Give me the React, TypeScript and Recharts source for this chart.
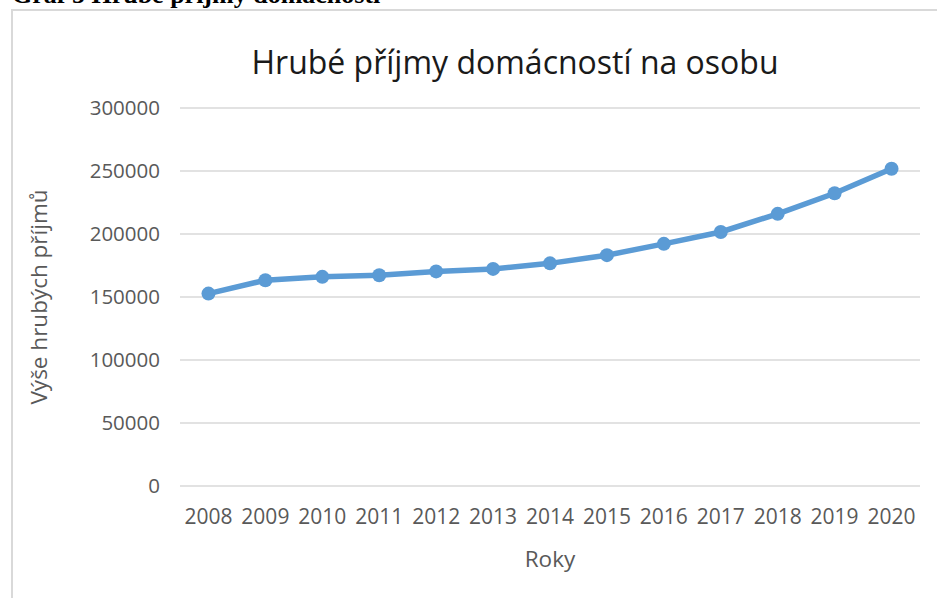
import React from 'react';
import { LineChart, Line, XAxis, YAxis, CartesianGrid, Label } from 'recharts';

const years: string[] = ['2008', '2009', '2010', '2011', '2012', '2013', '2014', '2015', '2016', '2017', '2018', '2019', '2020'];
const incomes: number[] = [152700, 163300, 166000, 167300, 170300, 172300, 176700, 183200, 192200, 201600, 216000, 232300, 251800];
const yTicks: number[] = [0, 50000, 100000, 150000, 200000, 250000, 300000];

const data = years.map((y, i) => ({ year: y, value: incomes[i] }));

const FONT = '"Open Sans", "Segoe UI", sans-serif';
const GREY = '#595959';
const HALF_BAND = 740 / 13 / 2;

export default function App() {
  return (
    <div style={{ position: 'absolute', left: 0, top: 0, width: 937, height: 598, overflow: 'hidden', background: '#fff' }}>
      <div
        style={{
          position: 'absolute',
          left: 12,
          top: -18,
          fontFamily: '"Liberation Serif", "Times New Roman", serif',
          fontWeight: 'bold',
          fontSize: 26,
          lineHeight: '26px',
          whiteSpace: 'nowrap',
          color: '#000',
        }}
      >
        Graf 5 Hrubé příjmy domácností
      </div>
      <div
        style={{
          position: 'absolute',
          left: 11,
          top: 9,
          width: 960,
          height: 620,
          border: '2px solid #d9d9d9',
          boxSizing: 'border-box',
        }}
      />
      <div
        style={{
          position: 'absolute',
          left: 0,
          width: 1030,
          top: 41,
          textAlign: 'center',
          fontFamily: FONT,
          fontSize: 32,
          lineHeight: '42px',
          color: '#1a1a1a',
          whiteSpace: 'nowrap',
        }}
      >
        Hrubé příjmy domácností na osobu
      </div>
      <div style={{ position: 'absolute', left: 0, top: 0 }}>
        <LineChart width={937} height={598} data={data} margin={{ top: 108, right: 17, bottom: 82, left: 0 }}>
          <CartesianGrid horizontal={true} vertical={false} stroke="#d9d9d9" strokeWidth={1.5} />
          <XAxis
            dataKey="year"
            axisLine={false}
            tickLine={false}
            tickMargin={17}
            interval={0}
            padding={{ left: HALF_BAND, right: HALF_BAND }}
            tick={{ fill: GREY, fontSize: 21, fontFamily: FONT }}
            height={30}
          >
            <Label
              content={() => (
                <text x={550} y={558} textAnchor="middle" dominantBaseline="central" fill={GREY} fontSize={22.5} fontFamily={FONT}>
                  Roky
                </text>
              )}
            />
          </XAxis>
          <YAxis
            type="number"
            domain={[0, 300000]}
            ticks={yTicks}
            interval={0}
            axisLine={false}
            tickLine={false}
            tickMargin={14}
            width={180}
            tick={{ fill: GREY, fontSize: 20.5, fontFamily: FONT }}
          >
            <Label
              content={() => (
                <text x={38} y={297} transform="rotate(-90 38 297)" textAnchor="middle" dominantBaseline="central" fill={GREY} fontSize={22.5} fontFamily={FONT}>
                  Výše hrubých příjmů
                </text>
              )}
            />
          </YAxis>
          <Line
            type="linear"
            dataKey="value"
            stroke="#5b9bd5"
            strokeWidth={5.5}
            dot={{ r: 7, fill: '#5b9bd5', stroke: '#5b9bd5', strokeWidth: 0 }}
            isAnimationActive={false}
          />
        </LineChart>
      </div>
    </div>
  );
}
